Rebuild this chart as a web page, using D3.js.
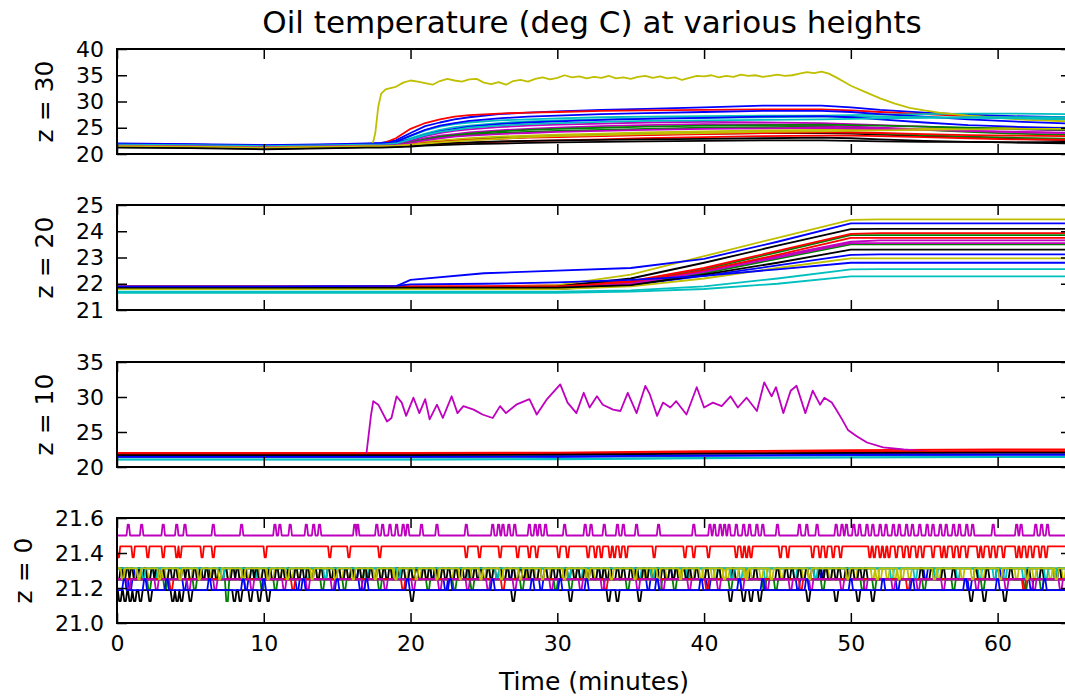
<!DOCTYPE html>
<html><head><meta charset="utf-8">
<script src="https://cdn.jsdelivr.net/npm/d3@7"></script>
<style>
body{margin:0;background:#fff}
svg{display:block}
text{font-family:"DejaVu Sans",sans-serif;fill:#000}
</style>
</head><body>
<svg id="chart" width="1065" height="698"></svg>
<script>
// ---------------- DATA ----------------
const titleText = "Oil temperature (deg C) at various heights";
const xLabelText = "Time (minutes)";
const panelLabels = ["z = 30", "z = 20", "z = 10", "z = 0"];
const xTicks = [0, 10, 20, 30, 40, 50, 60];
const z30Ticks = [20, 25, 30, 35, 40];
const z20Ticks = [21, 22, 23, 24, 25];
const z10Ticks = [20, 25, 30, 35];
const z0Ticks = [21.0, 21.2, 21.4, 21.6];

// z = 30 : common time grid for the slowly warming sensors
const z30Times = [0,5,10,15,17,18,19,20,21,22,23,24,26,28,30,33,36,40,44,48,50,52,55,58,61,65];
const z30Series = [
  [22.0,21.9,21.7,21.9,22.0,22.1,22.6,24.0,25.3,26.0,26.6,27.0,27.6,27.9,28.1,28.4,28.6,28.9,29.2,29.2,28.9,28.4,27.9,27.5,27.2,27.0],
  [21.6,21.5,21.3,21.5,21.6,21.6,21.8,22.3,22.8,23.2,23.5,23.7,24.0,24.2,24.4,24.6,24.8,25.0,25.1,25.2,25.1,24.9,24.6,24.2,23.9,23.6],
  [21.7,21.6,21.4,21.6,21.7,21.9,23.0,24.8,25.9,26.6,27.1,27.4,27.7,27.9,28.0,28.2,28.3,28.4,28.5,28.5,28.3,28.0,27.6,27.2,26.9,26.6],
  [21.8,21.7,21.5,21.7,21.8,21.9,22.2,23.4,24.5,25.2,25.7,26.0,26.4,26.6,26.8,27.0,27.1,27.2,27.3,27.3,27.4,27.5,27.6,27.7,27.7,27.6],
  [21.6,21.5,21.3,21.5,21.6,21.6,21.8,22.4,23.0,23.5,23.8,24.1,24.5,24.8,25.0,25.3,25.5,25.7,25.6,25.4,25.2,25.0,24.7,24.4,24.2,24.0],
  [21.4,21.3,21.1,21.3,21.4,21.4,21.5,21.8,22.1,22.4,22.6,22.8,23.0,23.2,23.4,23.6,23.7,23.9,24.0,24.0,23.9,23.7,23.4,23.1,22.9,22.6],
  [21.9,21.8,21.6,21.8,21.9,22.0,22.3,23.5,24.6,25.4,25.9,26.3,26.8,27.1,27.3,27.6,27.8,28.0,28.2,28.2,28.0,27.6,27.1,26.6,26.2,25.8],
  [21.5,21.4,21.2,21.4,21.5,21.5,21.6,21.9,22.2,22.5,22.7,22.9,23.1,23.3,23.5,23.7,23.8,24.0,24.1,24.2,24.1,23.9,23.6,23.3,23.1,22.9],
  [21.4,21.3,21.1,21.3,21.4,21.4,21.5,21.6,21.8,21.9,22.0,22.1,22.3,22.5,22.6,22.8,23.0,23.2,23.4,23.5,23.5,23.4,23.2,23.0,22.8,22.7],
  [21.7,21.6,21.4,21.6,21.7,21.8,22.0,23.0,23.9,24.6,25.1,25.4,25.9,26.2,26.4,26.6,26.8,26.9,27.0,27.1,27.1,27.1,27.0,26.9,26.8,26.6],
  [21.6,21.5,21.3,21.5,21.6,21.6,21.8,22.6,23.4,24.0,24.4,24.7,25.1,25.4,25.6,25.8,26.0,26.1,26.0,25.9,25.7,25.5,25.2,24.9,24.7,24.5],
  [21.5,21.4,21.2,21.4,21.5,21.5,21.6,21.9,22.3,22.6,22.8,23.0,23.3,23.5,23.7,23.9,24.1,24.3,24.5,24.6,24.6,24.7,24.8,24.9,25.0,25.0],
  [21.3,21.2,21.0,21.2,21.3,21.3,21.4,21.6,21.8,22.0,22.1,22.2,22.4,22.5,22.6,22.7,22.8,22.9,23.0,23.1,23.0,22.8,22.5,22.3,22.2,22.0],
  [21.9,21.8,21.6,21.8,21.9,22.0,22.2,22.8,23.6,24.3,24.8,25.2,25.7,26.0,26.2,26.5,26.7,26.9,27.1,27.2,27.0,26.6,26.0,25.5,25.2,24.9],
  [21.5,21.4,21.2,21.4,21.5,21.5,21.7,22.2,22.8,23.3,23.6,23.9,24.3,24.6,24.8,25.0,25.2,25.4,25.5,25.6,25.5,25.4,25.2,25.0,24.8,24.6],
  [21.5,21.4,21.2,21.4,21.5,21.5,21.6,21.8,22.1,22.3,22.5,22.7,22.9,23.1,23.2,23.4,23.6,23.8,24.0,24.1,24.1,24.0,23.8,23.6,23.5,23.4],
  [21.8,21.7,21.5,21.7,21.8,21.8,22.0,22.8,23.6,24.2,24.6,25.0,25.4,25.7,25.9,26.1,26.3,26.4,26.5,26.6,26.7,26.8,26.9,27.0,27.0,27.0],
  [21.6,21.5,21.3,21.5,21.6,21.6,21.7,22.1,22.6,23.0,23.3,23.5,23.8,24.0,24.2,24.4,24.6,24.8,24.9,25.0,24.9,24.8,24.6,24.4,24.2,24.0],
  [21.5,21.4,21.2,21.4,21.5,21.5,21.6,21.8,22.0,22.2,22.4,22.6,22.9,23.2,23.4,23.6,23.8,24.0,24.2,24.3,24.4,24.5,24.6,24.7,24.8,24.8],
  [21.2,21.1,20.9,21.1,21.2,21.2,21.3,21.4,21.6,21.7,21.8,21.9,22.0,22.1,22.2,22.3,22.4,22.5,22.6,22.6,22.5,22.4,22.3,22.3,22.2,22.3]
];
// z = 30 : the hot sensor (sixth line of the cycle)
const z30HotTimes = [0,5,10,15,17.4,17.6,17.8,18.0,18.3,18.7,19,19.5,20,20.5,21,21.5,22,22.5,23,23.5,24,24.5,25,25.5,26,26.5,27,27.5,28,28.5,29,29.5,30,30.5,31,31.5,32,32.5,33,33.5,34,34.5,35,35.5,36,36.5,37,37.5,38,38.5,39,39.5,40,40.5,41,41.5,42,42.5,43,43.5,44,44.5,45,45.5,46,46.5,47,47.5,48,48.5,49,49.5,50,51,52,53,54,55,56,57,58,59,60,61,62,63,65];
const z30HotValues = [21.6,21.5,21.5,21.6,21.7,24,29,31.5,32.3,32.6,32.8,33.6,34.0,33.8,33.5,33.2,33.9,34.3,34.0,33.8,34.2,34.3,33.6,33.3,33.7,33.2,33.9,34.1,33.8,34.3,34.6,34.2,34.5,35.0,34.6,34.8,34.4,34.7,34.5,34.9,34.4,34.6,34.3,34.7,34.9,34.5,34.8,34.4,34.6,34.1,34.5,34.9,34.8,35.0,34.6,34.9,34.7,35.1,34.9,35.0,34.7,34.9,35.1,34.9,35.0,35.3,35.6,35.4,35.7,35.3,34.6,33.8,33.0,31.8,30.6,29.6,28.8,28.3,27.9,27.6,27.3,27.1,26.9,26.7,26.5,26.4,26.2];

// z = 20
const z20Times = [0,10,19,20,25,30,35,40,45,50,52,56,60,65];
const z20Series = [
  [21.85,21.85,21.85,21.85,21.85,21.85,21.95,22.3,22.7,23.1,23.12,23.12,23.12,23.12],
  [21.8,21.8,21.8,21.8,21.8,21.85,22.05,22.55,23.2,23.85,23.85,23.85,23.85,23.85],
  [21.9,21.9,21.9,21.9,21.9,21.95,22.1,22.6,23.25,23.9,23.93,23.93,23.93,23.93],
  [21.7,21.7,21.7,21.7,21.7,21.7,21.75,21.9,22.2,22.55,22.56,22.56,22.56,22.56],
  [21.8,21.8,21.8,21.8,21.8,21.85,22.0,22.5,23.05,23.6,23.65,23.65,23.65,23.65],
  [21.85,21.85,21.85,21.85,21.85,21.95,22.35,23.05,23.75,24.43,24.45,24.45,24.45,24.45],
  [21.85,21.85,21.85,21.85,21.85,21.9,22.2,22.8,23.45,24.08,24.09,24.09,24.09,24.09],
  [21.85,21.85,21.9,22.15,22.4,22.5,22.6,22.95,23.6,24.3,24.3,24.3,24.3,24.3],
  [21.8,21.8,21.8,21.8,21.8,21.8,21.95,22.4,22.95,23.5,23.5,23.5,23.5,23.5],
  [21.9,21.9,21.9,21.9,21.9,21.9,22.05,22.5,23.1,23.75,23.75,23.75,23.75,23.75],
  [21.65,21.65,21.65,21.65,21.65,21.65,21.7,21.8,22.0,22.28,22.28,22.28,22.28,22.28],
  [21.8,21.8,21.8,21.8,21.8,21.8,22.0,22.45,23.0,23.55,23.55,23.55,23.55,23.55],
  [21.8,21.8,21.8,21.8,21.8,21.8,21.9,22.2,22.6,22.97,22.97,22.97,22.97,22.97],
  [21.85,21.85,21.85,21.85,21.85,21.85,21.95,22.35,22.8,23.3,23.3,23.3,23.3,23.3],
  [21.9,21.9,21.92,21.98,22.0,22.05,22.15,22.3,22.55,22.8,22.8,22.8,22.8,22.8]
];

// z = 10
const z10Times = [0,10,20,30,40,50,60,65];
const z10Series = [
  [21.55,21.55,21.55,21.6,21.75,21.85,21.9,21.9],
  [21.7,21.7,21.7,21.75,21.9,22.0,22.05,22.05],
  [22.0,22.0,22.0,22.05,22.25,22.4,22.5,22.5],
  [21.1,21.1,21.1,21.15,21.3,21.4,21.45,21.45],
  [21.6,21.6,21.6,21.65,21.8,21.9,21.95,21.95],
  [21.75,21.75,21.75,21.8,21.95,22.05,22.1,22.1],
  [21.4,21.4,21.4,21.45,21.6,21.7,21.75,21.75],
  [21.65,21.65,21.65,21.7,21.85,21.95,22.0,22.0],
  [21.85,21.85,21.85,21.9,22.05,22.2,22.25,22.25],
  [21.05,21.05,21.05,21.1,21.25,21.35,21.4,21.4],
  [21.6,21.6,21.6,21.65,21.8,21.9,21.95,21.95],
  [21.5,21.5,21.5,21.55,21.7,21.8,21.85,21.85],
  [21.7,21.7,21.7,21.75,21.9,22.0,22.05,22.05],
  [21.45,21.45,21.45,21.5,21.65,21.75,21.8,21.8]
];
// z = 10 : the hot sensor (fifth line of the cycle)
const z10HotTimes = [0,10,16.8,17.0,17.3,17.46,17.8,18.4,18.7,19.05,19.4,19.7,20.2,20.6,21.0,21.3,21.8,22.2,22.8,23.2,23.6,24.3,24.9,25.6,26.1,26.5,27.2,28.1,28.6,29.3,30.2,30.7,31.3,31.8,32.2,32.7,33.1,33.8,34.3,34.8,35.4,36.0,36.3,36.8,37.2,37.7,38.1,38.8,39.5,40.0,40.6,41.2,41.8,42.3,42.9,43.6,44.1,44.6,44.9,45.4,45.9,46.3,46.9,47.4,47.9,48.2,48.7,49.0,49.4,49.8,50.4,51.1,52.2,53.6,55.4,58,62,65];
const z10HotValues = [21.4,21.4,21.4,22.0,27.3,29.4,28.9,26.5,27.0,30.1,29.2,27.3,29.9,27.7,29.7,26.8,28.9,27.0,30.1,27.7,28.7,28.2,27.5,27.0,28.7,27.7,28.9,29.7,27.5,29.7,31.8,29.2,27.7,30.6,28.5,30.1,28.9,28.2,28.0,30.6,27.7,31.6,30.4,27.3,29.2,28.5,29.4,27.5,31.4,28.5,29.2,28.7,30.1,28.5,29.9,28.0,32.1,30.1,31.4,27.7,30.9,31.6,27.7,30.9,28.9,29.9,29.2,28.2,26.8,25.3,24.4,23.5,22.8,22.5,22.2,22.05,22.0,22.0];

// z = 0 : quantised sensors -> resting level, excursion level, excursion times (min)
const z0Levels = [21.3125,21.25,21.4375,21.3125,21.5,21.3125,21.25,21.25,21.25,21.25,21.3125,21.25,21.3125,21.1875,21.1875];
const z0Excursions = [21.25,21.1875,21.375,21.25,21.5625,21.25,21.3125,21.1875,21.1875,21.1875,21.25,21.1875,21.25,21.125,21.25];
const z0Blue1Dips = [1.3,6.4,11.5,16.3,21.5,26.8,33.0,37.9,43.0,48.0,55.1,60.3,64.0];
const z0Green1Dips = [2.2,5.3,7.5,10.8,14.0,17.9,21.2,24.2,27.6,30.9,34.8,38.0,41.8,44.9,48.1,51.6,55.0,59.0,63.0];
const z0Red1Dips = [0.1,1.1,2.1,3.15,4.07,4.3,5.8,6.56,10.1,14.5,15.8,17.9,23.8,24.7,26.1,27.3,28.1,28.6,30.1,30.7,32.1,32.6,33.0,33.6,33.9,34.3,34.7,36.6,38.7,39.3,40.3,42.2,42.6,42.9,43.2,45.2,45.7,47.4,47.9,48.3,48.8,49.3,51.3,51.6,52.0,52.3,52.6,53.1,53.6,54.0,54.5,54.9,55.6,56.2,56.5,57.0,57.4,57.9,58.7,59.0,59.5,59.9,60.4,61.3,61.6,62.0,62.4,62.9,63.3];
const z0Cyan1Dips = [2.6,5.9,9.4,13.0,17.0,20.2,24.0,27.7,31.6,35.6,38.9,40.8,42.5,44.2,46.2,52.8,55.8,57.3,58.8,60.5,61.8,62.8,63.9];
const z0Magenta1Spikes = [0.77,1.68,3.15,4.07,4.63,6.56,8.49,10.76,11.1,11.8,12.9,13.4,13.8,16.2,16.4,17.7,18.1,18.6,19.05,19.5,19.8,20.75,21.8,23.8,25.6,26.0,26.3,26.7,27.1,28.1,28.5,28.8,29.2,30.5,31.9,32.3,33.2,34.1,34.5,35.4,36.9,39.3,40.4,40.7,41.1,41.4,41.7,42.2,42.7,43.1,43.6,44.0,45.0,46.5,47.0,47.7,49.0,49.4,49.7,50.2,50.6,51.1,51.5,52.0,52.4,52.9,53.3,53.8,54.2,54.7,55.2,55.6,56.1,56.5,57.0,57.4,57.9,58.3,59.7,61.3,61.6,62.6,63.0,63.4];
const z0Yellow1Dips = [0.5,1.2,1.7,2.2,3.0,3.4,4.2,5.0,5.5,6.3,6.8,7.6,8.4,9.0,9.8,10.6,11.1,11.9,12.4,13.2,13.7,14.6,15.3,15.8,16.7,17.5,18.0,18.9,19.7,20.6,21.1,22.0,22.8,23.3,24.2,25.0,25.5,26.4,27.2,28.0,28.6,29.4,30.3,31.2,32.0,32.6,33.4,34.3,35.2,36.0,36.6,37.5,38.3,39.2,40.0,40.6,41.2,41.6,42.2,42.8,43.3,43.9,44.4,45.3,46.8,48.6,50.3,51.5,52.0,52.5,53.0,53.5,54.0,56.0,57.6,59.0,61.3,62.5,63.6,64.5];
const z0Black1Ups = [0.3,0.7,1.0,1.5,1.9,2.4,2.7,3.1,3.6,4.0,4.5,4.8,5.3,5.7,6.1,6.6,7.0,7.4,7.9,8.2,8.7,9.2,9.5,10.0,10.4,10.9,11.3,11.7,12.2,12.6,13.0,13.5,13.9,14.4,14.8,15.1,15.6,16.0,16.5,16.9,17.3,17.8,18.2,18.6,19.1,19.5,20.0,20.4,20.9,21.3,21.7,22.2,22.6,23.1,23.5,23.9,24.4,24.8,25.3,25.7,26.1,26.6,27.0,27.5,27.9,28.3,28.8,29.2,29.7,30.1,30.6,31.0,31.4,31.9,32.3,32.8,33.2,33.6,34.1,34.5,35.0,35.4,35.9,36.3,36.8,37.2,37.7,38.1,38.6,39.0,39.5,40.2,41.0,42.0,43.5,45.0,45.6,46.0,46.5,47.0,47.4,47.9,48.3,48.8,49.2,49.7,50.1,50.6,51.0,54.8,55.5,56.3,57.0,58.5,59.3,60.0,60.9,62.1,63.0,64.2];
const z0Blue2Dips = [0.9,4.6,8.8,12.3,16.6,22.4,28.9,36.2,40.3,46.4,53.2,58.1,62.3];
const z0Green2Dips = [3.3,9.9,15.5,23.0,29.9,37.0,44.1,50.8,57.0,61.9];
const z0Red2Dips = [3.7,12.0,19.5,26.3,33.3,40.2,46.6,53.9,61.8];
const z0Cyan2Dips = [1.8,7.2,14.2,19.2,25.9,30.8,36.5,41.9,47.6,54.4,59.8,63.3];
const z0Magenta2Dips = [0.8,2.7,4.9,6.7,9.2,11.4,13.0,14.7,16.8,18.3,20.2,22.0,23.9,25.3,27.1,29.6,31.6,33.1,35.5,37.2,39.0,41.0,42.6,44.3,45.9,47.3,49.4,51.0,52.9,54.6,56.3,58.6,60.6,62.5,64.3];
const z0Yellow2Dips = [0.4,1.5,2.9,4.3,5.6,7.0,8.6,10.3,11.6,13.3,14.9,16.1,17.6,19.0,20.4,21.8,23.4,24.8,26.2,27.5,29.0,30.5,32.1,33.7,35.3,36.9,38.4,39.8,41.4,42.9,44.6,47.2,49.8,51.8,53.3,55.7,58.3,60.2,62.0,64.0];
const z0Black2Dips = [0.2,0.55,0.9,1.2,1.6,2.25,3.8,4.1,4.4,5.0,8.0,8.4,9.1,9.7,10.3,20.1,27.0,30.9,33.5,34.1,35.6,41.8,42.7,43.2,43.8,47.1,49.0,50.5,51.5,58.2,59.1,60.5];
const z0Blue3Ups = [0.5,1.9,3.4,6.3,8.6,10.0,12.7,15.0,17.0,19.8,22.7,25.6,28.3,30.2,32.0,36.8,39.8,42.4,44.0,47.0,50.0,52.2,54.2,57.8,60.0,63.2];
const z0GreenDeepDip = [7.5];

// ---------------- STYLE / LAYOUT ----------------
const colorCycle = ["#0000ff","#008000","#ff0000","#00bfbf","#bf00bf","#bfbf00","#000000"];
const W = 1065, Hh = 698;
const X0 = 117, X1 = 1071, PH = 105;
const panelTops = [49, 205, 362, 518];
const xMax = 65;

function zipSeries(times, vals){ const n=Math.min(times.length, vals.length); const r=[]; for(let i=0;i<n;i++) r.push([times[i], vals[i]]); return r; }
function stepSeries(base, alt, times, hw, deep){
  const ev = times.map(t=>[t, (deep && deep.includes(t)) ? 21.125 : alt]).sort((a,b)=>a[0]-b[0]);
  const pts=[[0,base]]; let lastEnd=-1;
  ev.forEach(([t,l])=>{
    if (t-hw > lastEnd) pts.push([t-hw, base]);
    pts.push([t-hw*0.35, l],[t+hw*0.35, l],[t+hw, base]);
    lastEnd = t+hw;
  });
  pts.push([xMax, base]);
  return pts;
}

const z30Lines = z30Series.slice(0,5).map(v=>zipSeries(z30Times,v))
  .concat([zipSeries(z30HotTimes, z30HotValues)])
  .concat(z30Series.slice(5).map(v=>zipSeries(z30Times,v)));
const z20Lines = z20Series.map(v=>zipSeries(z20Times,v));
const z10Lines = z10Series.slice(0,4).map(v=>zipSeries(z10Times,v))
  .concat([zipSeries(z10HotTimes, z10HotValues)])
  .concat(z10Series.slice(4).map(v=>zipSeries(z10Times,v)));
const z0TimeLists = [z0Blue1Dips,z0Green1Dips,z0Red1Dips,z0Cyan1Dips,z0Magenta1Spikes,z0Yellow1Dips,z0Black1Ups,z0Blue2Dips,z0Green2Dips,z0Red2Dips,z0Cyan2Dips,z0Magenta2Dips,z0Yellow2Dips,z0Black2Dips,z0Blue3Ups];
const z0Lines = z0TimeLists.map((tl,i)=>stepSeries(z0Levels[i], z0Excursions[i], tl, (i===4||i===2)?0.12:0.15, i===1?z0GreenDeepDip:null));

const panels = [
  {label: panelLabels[0], domain:[20,40], ticks:z30Ticks, fmt:d3.format("d"), lines:z30Lines, labelX:53},
  {label: panelLabels[1], domain:[21,25], ticks:z20Ticks, fmt:d3.format("d"), lines:z20Lines, labelX:53},
  {label: panelLabels[2], domain:[20,35], ticks:z10Ticks, fmt:d3.format("d"), lines:z10Lines, labelX:53},
  {label: panelLabels[3], domain:[21.0,21.6], ticks:z0Ticks, fmt:d3.format(".1f"), lines:z0Lines, labelX:32}
];

// ---------------- DRAW ----------------
const svg = d3.select("#chart");
svg.append("rect").attr("width",W).attr("height",Hh).attr("fill","#fff");
const x = d3.scaleLinear().domain([0,xMax]).range([X0,X1]);
const defs = svg.append("defs");

panels.forEach((p,i)=>{
  const top = panelTops[i];
  const y = d3.scaleLinear().domain(p.domain).range([top+PH, top]);
  defs.append("clipPath").attr("id","clip"+i).append("rect")
    .attr("x",X0).attr("y",top).attr("width",X1-X0).attr("height",PH);
  const g = svg.append("g");
  const lg = g.append("g").attr("clip-path",`url(#clip${i})`);
  const line = d3.line().x(d=>x(d[0])).y(d=>y(d[1]));
  p.lines.forEach((pts,j)=>{
    lg.append("path").datum(pts).attr("d",line)
      .attr("fill","none").attr("stroke",colorCycle[j%7])
      .attr("stroke-width",1.8).attr("stroke-linejoin","round");
  });

  const styleAxis = sel => {
    sel.select(".domain").remove();
    sel.selectAll(".tick line").attr("stroke","#000").attr("stroke-width",1.5);
    sel.attr("font-family","DejaVu Sans").attr("font-size",22);
    sel.selectAll(".tick text").attr("fill","#000");
  };
  g.append("g").attr("transform",`translate(${X0},0)`)
    .call(d3.axisLeft(y).tickValues(p.ticks).tickFormat(p.fmt).tickSizeInner(-10).tickSizeOuter(0).tickPadding(13))
    .call(styleAxis);
  g.append("g").attr("transform",`translate(${X1},0)`)
    .call(d3.axisRight(y).tickValues(p.ticks).tickFormat("").tickSizeInner(-10).tickSizeOuter(0))
    .call(styleAxis);
  g.append("g").attr("transform",`translate(0,${top})`)
    .call(d3.axisTop(x).tickValues(xTicks).tickFormat("").tickSizeInner(-10).tickSizeOuter(0))
    .call(styleAxis);
  g.append("g").attr("transform",`translate(0,${top+PH})`)
    .call(d3.axisBottom(x).tickValues(xTicks).tickFormat(i===3?d3.format("d"):"").tickSizeInner(-10).tickSizeOuter(0).tickPadding(12))
    .call(styleAxis);

  g.append("rect").attr("x",X0).attr("y",top).attr("width",X1-X0).attr("height",PH)
    .attr("fill","none").attr("stroke","#000").attr("stroke-width",2);

  g.append("text").attr("transform",`translate(${p.labelX},${top+PH/2}) rotate(-90)`)
    .attr("text-anchor","middle").attr("font-size",25).text(p.label);
});

svg.append("text").attr("x",(X0+X1)/2 - 2).attr("y",33).attr("text-anchor","middle")
  .attr("font-size",31).text(titleText);
svg.append("text").attr("x",(X0+X1)/2).attr("y",690).attr("text-anchor","middle")
  .attr("font-size",25).text(xLabelText);
</script>
</body></html>
